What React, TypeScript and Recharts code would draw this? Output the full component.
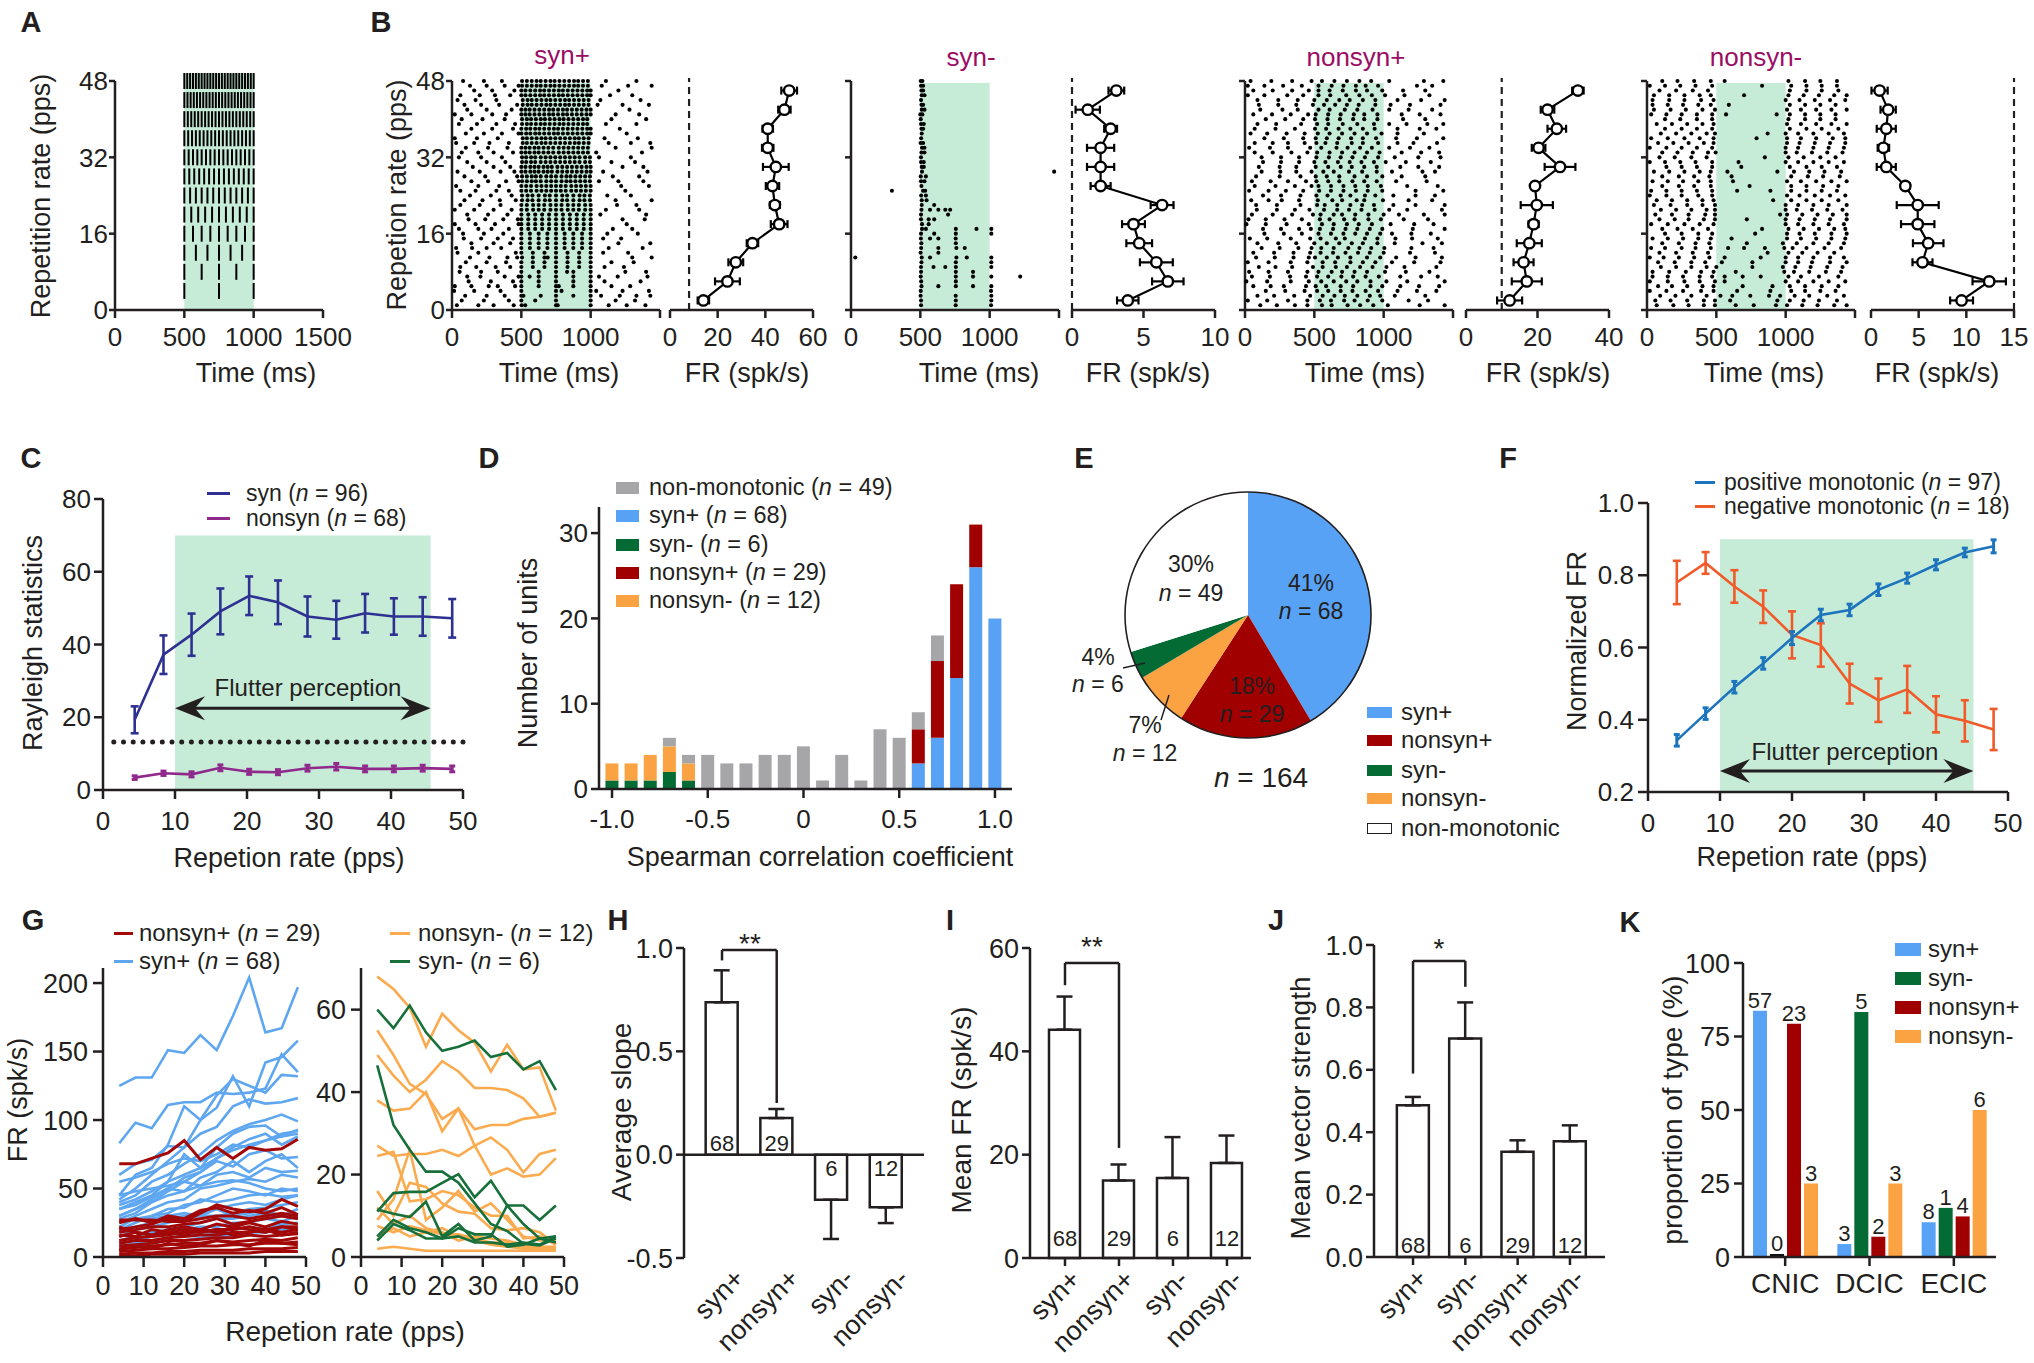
import React from 'react';
import {
  BarChart, Bar, ComposedChart, Line, LineChart, Scatter, ScatterChart, PieChart, Pie, Cell,
  XAxis, YAxis, ErrorBar, ReferenceArea, ReferenceLine, LabelList,
} from 'recharts';

const FONT = "'Liberation Sans', Arial, Helvetica, sans-serif";
const INK = '#231f20';
const FLUTTER = '#c6ebd7';
const MAGENTA = '#9b0d63';
const C_SYNP = '#58a2f6';
const C_SYNM = '#046b35';
const C_NSP = '#a10000';
const C_NSM = '#fba243';
const C_GRAY = '#a6a6a9';
const C_SYN = '#2e3192';
const C_NONSYN = '#8f2a8c';
const C_POS = '#1c75bc';
const C_NEG = '#f15a29';
const G_BLUE = '#5ea7f0';
const G_RED = '#a30808';
const G_ORANGE = '#fbab4f';
const G_GREEN = '#17703a';

// ---- A: click trains
const clickRates = [4, 8, 12, 16, 20, 24, 28, 32, 36, 40, 44, 48];
const STIM_ON = 500;
const STIM_OFF = 1000;

// ---- B: rasters (spike times per trial, and the trial row each one sits on)
const trialRowsOdd = [1, 3, 5, 7, 9, 11, 13, 15, 17, 19, 21, 23, 25, 27, 29, 31, 33, 35, 37, 39, 41, 43, 45, 47];
const trialRowsEven = [2, 4, 6, 8, 10, 12, 14, 16, 18, 20, 22, 24, 26, 28, 30, 32, 34, 36, 38, 40, 42, 44, 46, 48];
const nonsynPlusRowsOdd = [15, 39, 5, 29, 45, 11, 23, 1, 35, 19, 43, 7, 31, 25, 3, 41, 13, 37, 21, 47, 9, 27, 17, 33];
const nonsynPlusRowsEven = [28, 10, 42, 20, 4, 34, 14, 46, 24, 6, 38, 16, 48, 30, 2, 22, 40, 12, 32, 8, 44, 18, 26, 36];
const nonsynMinusRowsOdd = [7, 3, 13, 1, 11, 5, 15, 9, 25, 19, 29, 17, 31, 23, 27, 21, 41, 35, 45, 33, 47, 39, 43, 37];
const nonsynMinusRowsEven = [10, 4, 14, 2, 16, 8, 12, 6, 26, 20, 30, 18, 32, 24, 28, 22, 40, 36, 46, 34, 48, 42, 38, 44];

const synPlusRasterOdd = [
  [35, 190, 300, 445, 502, 528, 750, 762, 1000, 1130, 1260, 1395],
  [95, 250, 380, 500, 515, 640, 750, 875, 1000, 1075, 1210, 1330, 1430],
  [20, 140, 265, 330, 455, 500, 625, 750, 770, 875, 1000, 1150, 1285],
  [110, 205, 380, 480, 500, 560, 625, 750, 875, 1000, 1060, 1195, 1410],
  [60, 175, 315, 420, 500, 583, 667, 750, 833, 917, 1000, 1100, 1240],
  [130, 270, 400, 470, 505, 583, 667, 690, 750, 833, 917, 1000, 1300, 1440],
  [30, 145, 250, 355, 500, 562, 625, 688, 750, 812, 875, 938, 1000, 1130, 1375],
  [85, 210, 330, 440, 500, 562, 625, 688, 750, 812, 875, 938, 1000, 1090, 1220],
  [50, 190, 285, 410, 500, 550, 600, 650, 700, 750, 800, 850, 900, 950, 1000, 1160, 1300],
  [120, 240, 370, 475, 500, 550, 600, 650, 700, 750, 800, 850, 900, 950, 1000, 1230, 1390],
  [20, 160, 300, 430, 500, 540, 585, 625, 665, 710, 750, 790, 835, 875, 915, 960, 1000, 1110, 1350],
  [90, 220, 345, 460, 505, 545, 580, 625, 670, 705, 750, 795, 830, 875, 920, 955, 995, 1180, 1440],
  [60, 170, 320, 410, 500, 535, 570, 610, 645, 680, 715, 750, 785, 820, 860, 895, 930, 965, 1000, 1250],
  [140, 260, 390, 480, 505, 540, 575, 605, 640, 680, 715, 750, 790, 825, 855, 890, 925, 960, 995, 1060, 1200, 1380],
  [40, 200, 350, 450, 500, 530, 565, 595, 625, 660, 690, 720, 760, 795, 830, 865, 900, 935, 970, 1000, 1090, 1410],
  [110, 250, 385, 505, 535, 570, 600, 640, 675, 710, 745, 780, 815, 850, 885, 920, 960, 995, 1150, 1320],
  [70, 190, 300, 440, 500, 530, 560, 595, 625, 660, 695, 730, 770, 805, 840, 875, 910, 945, 980, 1040, 1370],
  [30, 160, 270, 410, 510, 540, 575, 610, 645, 675, 710, 745, 780, 815, 850, 885, 915, 950, 985, 1130, 1290, 1430],
  [100, 230, 360, 480, 500, 535, 565, 600, 630, 665, 700, 735, 765, 800, 835, 870, 905, 940, 975, 1000, 1260],
  [50, 180, 320, 455, 505, 540, 570, 605, 640, 670, 705, 740, 775, 805, 840, 875, 910, 945, 975, 1110, 1330],
  [20, 140, 290, 390, 500, 530, 560, 595, 630, 665, 700, 730, 765, 800, 830, 865, 900, 935, 970, 1000, 1180, 1350],
  [90, 210, 340, 470, 510, 545, 575, 610, 645, 680, 710, 745, 780, 815, 845, 880, 915, 950, 985, 1050, 1230, 1420],
  [60, 200, 310, 420, 500, 530, 565, 600, 635, 665, 700, 735, 770, 800, 835, 870, 905, 940, 975, 1000, 1140, 1300],
  [130, 250, 380, 480, 505, 540, 575, 610, 640, 675, 710, 740, 775, 810, 845, 880, 910, 945, 980, 1080, 1270, 1440],
];
const synPlusRasterEven = [
  [70, 230, 410, 500, 600, 750, 1000, 1180, 1320],
  [15, 160, 350, 500, 750, 790, 1000, 1040, 1230, 1420],
  [120, 280, 440, 500, 625, 750, 875, 1000, 1100, 1360],
  [55, 210, 330, 500, 625, 750, 830, 875, 1000, 1250, 1400],
  [100, 250, 390, 500, 583, 667, 750, 833, 917, 1000, 1150, 1310],
  [40, 190, 460, 500, 583, 667, 750, 833, 917, 1000, 1090, 1270],
  [140, 300, 420, 500, 562, 625, 688, 750, 812, 875, 938, 1000, 1200, 1430],
  [80, 230, 370, 500, 562, 625, 688, 750, 812, 875, 938, 1000, 1120, 1340],
  [20, 170, 310, 480, 500, 550, 600, 650, 700, 750, 800, 850, 900, 950, 1000, 1260],
  [110, 260, 400, 500, 550, 600, 650, 700, 750, 800, 850, 900, 950, 1000, 1070, 1400],
  [60, 200, 350, 500, 540, 585, 625, 665, 710, 750, 790, 835, 875, 915, 960, 1000, 1190, 1330],
  [130, 280, 430, 505, 545, 580, 625, 670, 705, 750, 795, 830, 875, 920, 955, 995, 1120, 1290],
  [30, 190, 340, 500, 535, 570, 610, 645, 680, 715, 750, 785, 820, 860, 895, 930, 965, 1000, 1220, 1420],
  [90, 240, 470, 505, 540, 575, 605, 640, 680, 715, 750, 790, 825, 855, 890, 925, 960, 995, 1160, 1350],
  [150, 300, 420, 500, 530, 565, 595, 625, 660, 690, 720, 760, 795, 830, 865, 900, 935, 970, 1000, 1230, 1380],
  [50, 210, 360, 505, 535, 570, 600, 640, 675, 710, 745, 780, 815, 850, 885, 920, 960, 995, 1060, 1290],
  [100, 260, 400, 500, 530, 560, 595, 625, 660, 695, 730, 770, 805, 840, 875, 910, 945, 980, 1180, 1440],
  [20, 180, 330, 510, 540, 575, 610, 645, 675, 710, 745, 780, 815, 850, 885, 915, 950, 985, 1100, 1340],
  [140, 290, 440, 500, 535, 565, 600, 630, 665, 700, 735, 765, 800, 835, 870, 905, 940, 975, 1000, 1210],
  [70, 220, 380, 505, 540, 570, 605, 640, 670, 705, 740, 775, 805, 840, 875, 910, 945, 975, 1150, 1400],
  [110, 250, 430, 500, 530, 560, 595, 630, 665, 700, 730, 765, 800, 830, 865, 900, 935, 970, 1000, 1280],
  [40, 170, 320, 510, 545, 575, 610, 645, 680, 710, 745, 780, 815, 845, 880, 915, 950, 985, 1070, 1360],
  [160, 290, 450, 500, 530, 565, 600, 635, 665, 700, 735, 770, 800, 835, 870, 905, 940, 975, 1000, 1200],
  [80, 230, 360, 505, 540, 575, 610, 640, 675, 710, 740, 775, 810, 845, 880, 910, 945, 980, 1110, 1330],
];

const synMinusRasterOdd = [
  [505, 755, 1010], [502, 755, 1012], [508, 630, 756, 880, 1012], [503, 756, 880, 1012, 1220],
  [505, 595, 680, 756, 1012], [31, 510, 570, 760, 835, 1012], [506, 630, 760, 820], [504, 570, 630, 755],
  [512, 540, 756, 905, 1012], [505, 560, 600], [508, 570, 630, 680, 715], [510, 545],
  [295, 520, 535], [505, 530], [512, 1465], [505, 525], [508, 530], [502, 520],
  [510], [505, 525], [500, 515], [508, 520], [510, 530], [505, 520],
];
const synMinusRasterEven = [
  [505, 756, 1012], [503, 1010], [506, 756], [505, 756, 880], [508, 756, 1012], [502, 630],
  [507, 756], [505, 600, 756, 1012], [512, 560], [505, 700], [510, 600], [506, 540],
  [508], [503, 540], [510, 525], [505], [512, 530], [506],
  [508, 520], [503], [510, 530], [505], [508, 520], [503, 515],
];

const nonsynPlusRasterOdd = [
  [35, 160, 330, 470, 545, 655, 720, 865, 955, 1085, 1205, 1390],
  [90, 225, 405, 520, 600, 705, 810, 930, 1040, 1165, 1315, 1430],
  [60, 185, 280, 440, 510, 585, 690, 780, 905, 990, 1120, 1255, 1400],
  [120, 255, 370, 480, 565, 640, 750, 845, 950, 1060, 1280, 1370],
  [20, 140, 305, 420, 530, 615, 730, 825, 915, 1010, 1150, 1330],
  [80, 215, 350, 460, 505, 590, 670, 760, 880, 975, 1090, 1230, 1420],
  [45, 170, 265, 390, 525, 630, 700, 805, 860, 995, 1180, 1350],
  [110, 230, 360, 450, 555, 625, 740, 830, 925, 1030, 1260, 1440],
  [70, 200, 310, 430, 515, 580, 665, 770, 850, 960, 1100, 1215, 1385],
  [25, 150, 285, 410, 540, 610, 715, 790, 890, 980, 1145, 1320],
  [100, 240, 370, 490, 570, 650, 735, 820, 940, 1050, 1190, 1410],
  [50, 180, 325, 440, 520, 600, 695, 780, 870, 965, 1120, 1270, 1390],
  [130, 260, 390, 500, 580, 670, 755, 840, 930, 1015, 1160, 1340],
  [30, 170, 295, 420, 535, 620, 710, 800, 885, 990, 1230, 1430],
  [90, 210, 355, 470, 560, 645, 720, 810, 900, 975, 1080, 1300],
  [60, 195, 330, 455, 510, 600, 690, 785, 860, 955, 1130, 1260, 1410],
  [120, 250, 385, 480, 550, 640, 745, 825, 910, 1005, 1200, 1360],
  [40, 160, 300, 430, 525, 610, 700, 790, 880, 985, 1100, 1290],
  [85, 230, 360, 465, 570, 665, 750, 840, 935, 1040, 1170, 1420],
  [20, 140, 275, 410, 530, 625, 710, 800, 870, 960, 1240, 1350],
  [100, 220, 340, 490, 560, 655, 735, 830, 920, 1020, 1150, 1380],
  [50, 185, 310, 440, 515, 600, 680, 775, 860, 950, 1090, 1310],
  [130, 260, 390, 475, 540, 635, 725, 810, 900, 990, 1210, 1440],
  [70, 200, 335, 450, 520, 610, 700, 790, 880, 970, 1130, 1270, 1400],
];
const nonsynPlusRasterEven = [
  [80, 250, 400, 510, 590, 680, 790, 880, 990, 1130, 1300],
  [20, 170, 330, 450, 560, 650, 760, 850, 940, 1060, 1220, 1410],
  [110, 270, 380, 530, 610, 720, 810, 920, 1040, 1180, 1350],
  [50, 200, 340, 490, 545, 640, 700, 795, 890, 1000, 1110, 1290, 1440],
  [150, 290, 430, 520, 600, 690, 775, 870, 960, 1100, 1240, 1380],
  [30, 180, 310, 470, 550, 660, 740, 830, 915, 1040, 1190, 1330],
  [90, 240, 370, 500, 590, 680, 770, 850, 955, 1080, 1280, 1420],
  [60, 200, 340, 460, 530, 610, 705, 800, 880, 990, 1140, 1300],
  [130, 260, 400, 515, 595, 690, 760, 865, 940, 1070, 1230, 1370],
  [10, 160, 330, 460, 550, 640, 730, 810, 905, 1020, 1170, 1440],
  [70, 220, 360, 505, 585, 675, 760, 850, 935, 1100, 1260, 1380],
  [140, 280, 410, 530, 620, 710, 795, 880, 975, 1060, 1200, 1340],
  [40, 190, 340, 480, 555, 645, 735, 825, 910, 1040, 1290, 1430],
  [100, 250, 370, 510, 600, 690, 770, 860, 950, 1120, 1250, 1400],
  [20, 160, 310, 450, 540, 620, 715, 790, 885, 990, 1180, 1320],
  [80, 230, 400, 520, 575, 665, 760, 845, 930, 1070, 1230, 1440],
  [150, 290, 420, 505, 595, 685, 780, 860, 955, 1140, 1300],
  [60, 210, 350, 470, 545, 635, 725, 815, 900, 1000, 1190, 1370],
  [120, 260, 390, 515, 605, 690, 775, 865, 960, 1080, 1250, 1410],
  [30, 170, 310, 450, 530, 625, 700, 790, 880, 1010, 1160, 1330],
  [90, 240, 380, 500, 590, 680, 755, 850, 940, 1100, 1270, 1440],
  [10, 150, 300, 460, 555, 640, 735, 820, 915, 1050, 1220, 1360],
  [70, 220, 360, 480, 530, 620, 710, 795, 885, 980, 1170, 1390],
  [140, 280, 420, 510, 590, 675, 765, 850, 945, 1090, 1240, 1430],
];

const nonsynMinusRasterOdd = [
  [40, 150, 260, 380, 470, 560, 690, 820, 1020, 1110, 1240, 1380],
  [95, 205, 320, 430, 530, 615, 745, 880, 960, 1065, 1170, 1300, 1420],
  [30, 130, 250, 350, 460, 585, 700, 850, 990, 1050, 1150, 1280, 1400],
  [70, 190, 300, 410, 490, 640, 770, 930, 1010, 1120, 1230, 1350, 1440],
  [20, 120, 230, 340, 450, 560, 820, 1000, 1090, 1200, 1320, 1420],
  [80, 180, 290, 400, 480, 690, 905, 1030, 1140, 1260, 1380],
  [40, 150, 260, 370, 460, 610, 1010, 1110, 1220, 1330, 1430],
  [100, 210, 320, 430, 500, 760, 980, 1070, 1180, 1300, 1410],
  [30, 140, 250, 360, 470, 650, 890, 1040, 1150, 1260, 1370],
  [90, 200, 300, 410, 490, 720, 1000, 1100, 1210, 1320, 1440],
  [50, 160, 270, 380, 460, 580, 940, 1060, 1170, 1280, 1400],
  [110, 220, 330, 440, 830, 1020, 1130, 1240, 1350, 1430],
  [20, 130, 240, 350, 470, 660, 1000, 1090, 1200, 1310, 1420],
  [70, 180, 290, 400, 480, 910, 1040, 1150, 1260, 1380],
  [40, 150, 260, 370, 460, 620, 1010, 1110, 1220, 1330, 1440],
  [100, 210, 320, 430, 490, 1000, 1080, 1190, 1300, 1410],
  [30, 140, 250, 360, 470, 570, 935, 1030, 1140, 1250, 1360],
  [80, 190, 300, 410, 480, 1010, 1100, 1210, 1320, 1430],
  [50, 160, 270, 380, 460, 700, 1020, 1130, 1240, 1350, 1440],
  [110, 220, 330, 440, 495, 1000, 1080, 1190, 1300, 1410],
  [20, 130, 240, 350, 470, 830, 1040, 1150, 1260, 1370],
  [70, 180, 290, 400, 480, 1010, 1110, 1220, 1330, 1440],
  [40, 150, 260, 370, 460, 590, 1030, 1140, 1250, 1360],
  [100, 210, 320, 430, 490, 870, 1000, 1090, 1200, 1310, 1420],
];
const nonsynMinusRasterEven = [
  [80, 200, 320, 420, 540, 760, 1000, 1090, 1190, 1320, 1440],
  [20, 140, 260, 390, 480, 650, 890, 1040, 1140, 1250, 1360],
  [110, 230, 350, 450, 720, 980, 1080, 1200, 1310, 1420],
  [60, 170, 290, 410, 490, 600, 940, 1030, 1130, 1240, 1370],
  [130, 250, 370, 470, 780, 1010, 1100, 1210, 1330, 1440],
  [40, 160, 280, 390, 480, 640, 990, 1060, 1170, 1290, 1400],
  [90, 210, 330, 440, 870, 1020, 1120, 1230, 1350],
  [20, 150, 270, 380, 490, 560, 1000, 1090, 1200, 1310, 1430],
  [110, 230, 340, 460, 740, 1040, 1150, 1270, 1380],
  [60, 180, 300, 420, 490, 960, 1010, 1120, 1230, 1340, 1440],
  [140, 250, 360, 470, 680, 1030, 1150, 1260, 1370],
  [30, 150, 270, 380, 480, 1000, 1090, 1200, 1310, 1420],
  [90, 200, 320, 430, 850, 1020, 1130, 1250, 1360],
  [20, 140, 250, 370, 470, 1010, 1100, 1210, 1320, 1430],
  [110, 230, 340, 450, 610, 1040, 1160, 1270, 1390],
  [50, 170, 290, 400, 490, 1000, 1090, 1200, 1310, 1440],
  [130, 240, 360, 470, 1020, 1140, 1250, 1360],
  [30, 150, 270, 380, 480, 790, 1010, 1110, 1220, 1340, 1430],
  [90, 210, 330, 440, 1030, 1150, 1260, 1380],
  [20, 140, 250, 360, 470, 1000, 1090, 1200, 1310, 1420],
  [110, 220, 340, 460, 560, 1020, 1140, 1250, 1370],
  [50, 170, 280, 400, 490, 1010, 1110, 1220, 1330, 1440],
  [130, 250, 360, 470, 1030, 1150, 1260, 1380],
  [40, 160, 270, 390, 480, 1000, 1100, 1210, 1320, 1430],
];

const tuningRates = [2, 6, 10, 14, 18, 22, 26, 30, 34, 38, 42, 46];
const synPlusFR = [14, 24.1, 27.6, 34.6, 45.8, 44, 43, 44.4, 41, 41, 48, 50];
const synPlusSem = [2.4, 5.2, 3.1, 2.4, 3.5, 2.1, 2.8, 5.4, 2.4, 2.2, 2.6, 3.3];
const synMinusFR = [3.9, 6.7, 5.9, 4.7, 4.3, 6.3, 2.0, 2.0, 2.0, 2.7, 1.1, 3.1];
const synMinusSem = [0.75, 1.1, 1.15, 0.9, 0.8, 0.8, 0.7, 0.95, 0.95, 0.45, 0.85, 0.55];
const nonsynPlusFR = [12.2, 17, 16.1, 17.7, 18.9, 19.8, 19.3, 26.3, 20.3, 25.4, 22.8, 31.3];
const nonsynPlusSem = [3.5, 4.2, 2.8, 3.5, 1.4, 4.5, 1, 4.3, 1.9, 2.6, 1.9, 1.6];
const nonsynMinusFR = [9.5, 12.4, 5.4, 6.0, 4.9, 4.9, 3.6, 1.6, 1.3, 1.6, 1.8, 0.9];
const nonsynMinusSem = [1.2, 1.75, 1.05, 1.6, 1.75, 2.2, 0.45, 1.0, 0.6, 1.0, 0.8, 0.85];

// ---- C: Rayleigh statistics
const cRates = [4.4, 8.4, 12.3, 16.3, 20.3, 24.3, 28.4, 32.4, 36.4, 40.4, 44.4, 48.5];
const synRayleigh = [19.3, 37.2, 42.7, 49.1, 53.4, 51.6, 47.7, 46.8, 48.6, 47.7, 47.7, 47.2];
const synRayleighErr = [3.7, 5.3, 5.8, 6.3, 5.3, 6.0, 5.5, 5.2, 5.3, 5.0, 5.3, 5.3];
const nonsynRayleigh = [3.4, 4.6, 4.3, 6.1, 5.0, 4.9, 6.0, 6.4, 5.8, 5.8, 6.0, 5.8];
const nonsynRayleighErr = [0.5, 0.6, 0.7, 0.8, 0.7, 0.7, 0.8, 0.9, 0.8, 0.8, 0.8, 0.8];
const RAYLEIGH_CRIT = 13.2;
const flutterRange = [10, 45.5];

// ---- D: Spearman histogram
const corrBins = [-1.0, -0.9, -0.8, -0.7, -0.6, -0.5, -0.4, -0.3, -0.2, -0.1, 0, 0.1, 0.2, 0.3, 0.4, 0.5, 0.6, 0.7, 0.8, 0.9, 1.0];
const dSynMinus = [1, 1, 1, 2, 1, 0, 0, 0, 0, 0, 0, 0, 0, 0, 0, 0, 0, 0, 0, 0, 0];
const dNonsynMinus = [2, 2, 3, 3, 2, 0, 0, 0, 0, 0, 0, 0, 0, 0, 0, 0, 0, 0, 0, 0, 0];
const dSynPlus = [0, 0, 0, 0, 0, 0, 0, 0, 0, 0, 0, 0, 0, 0, 0, 0, 3, 6, 13, 26, 20];
const dNonsynPlus = [0, 0, 0, 0, 0, 0, 0, 0, 0, 0, 0, 0, 0, 0, 0, 0, 4, 9, 11, 5, 0];
const dNonMono = [0, 0, 0, 1, 1, 4, 3, 3, 4, 4, 5, 1, 4, 1, 7, 6, 2, 3, 0, 0, 0];

// ---- E: pie
const pieTypes = ['syn+', 'nonsyn+', 'nonsyn-', 'syn-', 'non-monotonic'];
const pieCounts = [68, 29, 12, 6, 49];
const pieColors = [C_SYNP, C_NSP, C_NSM, C_SYNM, '#ffffff'];

// ---- F: normalized FR
const fRates = [4, 8, 12, 16, 20, 24, 28, 32, 36, 40, 44, 48];
const posNorm = [0.343, 0.417, 0.49, 0.556, 0.626, 0.69, 0.704, 0.76, 0.792, 0.829, 0.863, 0.88];
const posErr = [0.016, 0.016, 0.016, 0.016, 0.018, 0.016, 0.016, 0.016, 0.014, 0.014, 0.012, 0.018];
const negNorm = [0.78, 0.834, 0.769, 0.713, 0.635, 0.607, 0.5, 0.454, 0.484, 0.415, 0.397, 0.373];
const negErr = [0.06, 0.03, 0.045, 0.045, 0.065, 0.06, 0.055, 0.06, 0.065, 0.05, 0.057, 0.057];

// ---- G: single units
const gRates = [4, 8, 12, 16, 20, 24, 28, 32, 36, 40, 44, 48];
const synPlusUnits = [
  [125, 131, 131, 151, 149, 162, 151, 176, 204, 164, 167, 197],
  [83, 98, 94, 111, 113, 113, 120, 119, 120, 123, 148, 135],
  [60, 68, 71, 81, 80, 100, 109, 132, 110, 142, 146, 158],
  [45, 60, 65, 82, 110, 100, 118, 130, 125, 120, 133, 132],
  [42, 50, 60, 70, 80, 90, 95, 110, 115, 112, 113, 116],
  [40, 45, 55, 60, 68, 75, 85, 92, 97, 100, 104, 99],
  [38, 42, 48, 55, 75, 65, 80, 90, 95, 96, 88, 93],
  [35, 40, 45, 55, 60, 65, 72, 80, 86, 90, 82, 88],
  [30, 35, 40, 48, 55, 62, 70, 66, 75, 78, 72, 73],
  [28, 32, 40, 45, 48, 52, 60, 62, 58, 65, 62, 63],
  [25, 30, 35, 40, 42, 50, 52, 55, 57, 55, 60, 58],
  [45, 48, 50, 52, 55, 52, 55, 56, 54, 50, 48, 50],
  [20, 25, 30, 32, 38, 40, 45, 50, 48, 45, 50, 48],
  [22, 28, 30, 35, 36, 42, 40, 42, 45, 46, 44, 45],
  [18, 22, 25, 28, 30, 32, 35, 38, 40, 38, 42, 45],
  [15, 20, 22, 25, 28, 30, 30, 32, 35, 36, 38, 40],
  [12, 15, 18, 20, 22, 25, 28, 28, 30, 32, 30, 35],
  [26, 28, 28, 30, 32, 30, 35, 30, 32, 34, 30, 28],
  [10, 12, 15, 18, 20, 22, 22, 25, 25, 28, 26, 30],
  [8, 10, 12, 14, 16, 18, 18, 20, 22, 20, 24, 25],
  [5, 8, 10, 12, 12, 14, 15, 16, 18, 18, 20, 20],
  [30, 35, 42, 50, 48, 58, 62, 70, 62, 70, 75, 65],
  [35, 38, 44, 50, 58, 62, 72, 78, 82, 85, 88, 90],
  [55, 58, 62, 68, 72, 70, 75, 82, 80, 85, 90, 92],
];
const nonsynPlusUnits = [
  [68, 68, 72, 76, 85, 71, 80, 72, 80, 78, 79, 86],
  [27, 27, 27, 26, 26, 32, 38, 35, 33, 35, 42, 37],
  [25, 28, 25, 30, 28, 34, 36, 32, 34, 32, 36, 31],
  [20, 22, 24, 28, 26, 28, 30, 30, 28, 30, 32, 30],
  [18, 20, 22, 22, 24, 25, 28, 24, 26, 28, 30, 28],
  [15, 18, 16, 20, 22, 20, 24, 22, 25, 22, 26, 24],
  [12, 14, 15, 16, 18, 18, 20, 20, 22, 20, 22, 22],
  [10, 12, 12, 14, 15, 16, 16, 18, 18, 20, 18, 20],
  [8, 9, 10, 12, 12, 13, 14, 14, 16, 15, 16, 17],
  [6, 7, 8, 9, 10, 10, 12, 11, 12, 13, 12, 14],
  [4, 5, 6, 6, 7, 8, 8, 9, 9, 10, 10, 11],
  [2, 3, 3, 4, 4, 5, 5, 5, 6, 6, 6, 7],
  [1, 1, 2, 2, 2, 3, 3, 3, 3, 4, 4, 4],
  [16, 15, 20, 18, 16, 20, 18, 22, 20, 18, 22, 20],
  [22, 18, 16, 18, 20, 18, 20, 16, 18, 20, 16, 18],
  [5, 8, 6, 10, 8, 9, 12, 10, 8, 12, 10, 9],
];
const nonsynMinusUnits = [
  [68, 65, 60.5, 51, 59, 55, 52, 45, 51.5, 45.5, 46, 35.5],
  [55, 49, 42, 39.5, 33.5, 36, 31, 32, 32, 33.5, 34, 35],
  [49, 44, 40, 43, 47.5, 45, 41, 41, 40.5, 38.5, 34, 35],
  [38, 35.5, 36, 40, 30.5, 36, 27, 29, 26, 20.5, 25, 26],
  [27, 24.5, 25, 25, 26, 24.5, 27, 20, 21.5, 19.5, 20, 24],
  [24.5, 25.5, 13.5, 14, 16, 15, 12, 10, 10, 4.5, 5, 3],
  [16, 10, 18, 17, 13, 11, 10.5, 7, 6.5, 7, 6, 3],
  [12, 8, 10, 7, 6, 4, 5, 4.5, 4, 3, 2.5, 2.5],
  [9, 14, 26, 9, 12, 16, 11, 13, 9, 5, 4, 4],
  [7.5, 6, 7.5, 6.5, 5.5, 5.5, 4.5, 3.5, 3.5, 2.5, 2, 2],
  [2, 2.5, 2, 1.5, 1.5, 1.5, 1.5, 1.5, 1.5, 1.5, 1.5, 1.5],
  [5, 7, 5, 6, 7, 5, 4, 3, 2.5, 2, 2, 2],
];
const synMinusUnits = [
  [60, 55.5, 61, 54.5, 50, 51, 52.5, 48.5, 49.5, 45.5, 47.5, 40.5],
  [46.5, 32, 26, 20.7, 20.7, 18, 13, 8, 6.3, 3.2, 2.8, 4.5],
  [11, 15.5, 15.8, 15.8, 18, 20.1, 14.5, 18.5, 12.5, 12.5, 9, 12.5],
  [11.5, 10.5, 9.7, 13.4, 5, 8, 4, 5, 12.5, 8, 4.5, 5],
  [5, 9, 7, 6, 4.5, 7, 5.5, 5.5, 2.5, 3, 4.5, 3.5],
  [4, 8, 6.5, 4.5, 4.5, 5, 3.5, 3.5, 3, 3.5, 3, 5],
];

// ---- H, I, J: group means
const hCats = ['syn+', 'nonsyn+', 'syn-', 'nonsyn-'];
const hSlope = [0.737, 0.177, -0.218, -0.255];
const hErr = [0.155, 0.044, 0.19, 0.076];
const hN = [68, 29, 6, 12];
const hSig = [[1, 0.94, 1, 0.99], [1, 0.99, 2, 0.99], [2, 0.99, 2, 0.25]];

const iCats = ['syn+', 'nonsyn+', 'syn-', 'nonsyn-'];
const iFR = [44.2, 15.0, 15.5, 18.4];
const iErr = [6.4, 3.1, 7.9, 5.3];
const iN = [68, 29, 6, 12];
const iSig = [[1, 52.8, 1, 57.1], [1, 57.1, 2, 57.1], [2, 57.1, 2, 21.3]];

const jCats = ['syn+', 'syn-', 'nonsyn+', 'nonsyn-'];
const jVS = [0.486, 0.7, 0.337, 0.371];
const jErr = [0.027, 0.116, 0.037, 0.051];
const jN = [68, 6, 29, 12];
const jSig = [[1, 0.588, 1, 0.949], [1, 0.949, 2, 0.949], [2, 0.949, 2, 0.866]];

// ---- K: proportions per subdivision
const regions = ['CNIC', 'DCIC', 'ECIC'];
const kSynPlus = [83.8, 4.4, 11.8];
const kSynPlusN = [57, 3, 8];
const kSynMinus = [0, 83.3, 16.7];
const kSynMinusN = [0, 5, 1];
const kNonsynPlus = [79.3, 6.9, 13.8];
const kNonsynPlusN = [23, 2, 4];
const kNonsynMinus = [25, 25, 50];
const kNonsynMinusN = [3, 3, 6];

// ---------- helpers
type Box = { x0: number; y0: number; x1: number; y1: number; l: number; t: number; r: number; b: number };
const place = (bx: Box) => ({
  style: { position: 'absolute' as const, left: bx.x0 - bx.l, top: bx.y0 - bx.t },
  width: bx.x1 - bx.x0 + bx.l + bx.r,
  height: bx.y1 - bx.y0 + bx.t + bx.b,
  margin: { top: bx.t, right: bx.r, bottom: 0, left: 0 },
});

const LINE = { stroke: INK, strokeWidth: 2.5 };
const axStyle = (fs: number, size: number, gap: number) => ({
  axisLine: LINE,
  tickLine: LINE,
  tickSize: size,
  tickMargin: gap,
  tick: { fill: INK, fontSize: fs },
});

const spikeDot = (p: any) => <circle cx={p.cx} cy={p.cy} r={2.05} fill="#000" />;
const clickMark = (p: any) => <line x1={p.cx} x2={p.cx} y1={p.cy - 8} y2={p.cy + 8} stroke="#000" strokeWidth={2} />;
const openCircle = (p: any) => <circle cx={p.cx} cy={p.cy} r={5.2} fill="#fff" stroke="#000" strokeWidth={2.4} />;
const arrowHead = (p: any) => {
  const d = p.payload.d;
  const { cx, cy } = p;
  return <polygon points={`${cx},${cy} ${cx - d * 30},${cy - 12} ${cx - d * 20},${cy} ${cx - d * 30},${cy + 12}`} fill={INK} />;
};
const countText = (dyPos: number) => (p: any) => (
  <text x={p.cx} y={p.payload.neg ? p.cy + 21 : p.cy - dyPos} textAnchor="middle" fontSize={22} fill={INK}>
    {p.payload.t}
  </text>
);
const slantTick = (names: string[], dx: number, dy: number) => (p: any) => {
  const i = Math.round(p.payload.value) - 1;
  const ax = p.x + dx;
  const ay = p.y + dy;
  return (
    <text x={ax} y={ay} textAnchor="end" fontSize={27} fill={INK} transform={`rotate(-45 ${ax} ${ay})`}>
      {names[i]}
    </text>
  );
};

function Txt({ x, y, size = 26, rot = 0, anchor = 'middle', color = INK, bold = false, children }: any) {
  const tx = anchor === 'middle' ? '-50%' : anchor === 'end' ? '-100%' : '0';
  return (
    <div style={{
      position: 'absolute', left: x, top: y, transform: `translate(${tx}, -50%) rotate(${rot}deg)`,
      fontSize: size, lineHeight: 1, whiteSpace: 'nowrap', color, fontWeight: bold ? 700 : 400,
    }}>
      {children}
    </div>
  );
}
const Letter = ({ x, y, c }: any) => <Txt x={x} y={y} size={29} bold>{c}</Txt>;
const Swatch = ({ x, y, w, h, color, border }: any) => (
  <div style={{ position: 'absolute', left: x, top: y - h / 2, width: w, height: h, background: color, boxSizing: 'border-box', border: border ? `1.5px solid ${INK}` : 'none' }} />
);
const N = () => <i>n</i>;

// ---------- panels
function PanelA() {
  const p = place({ x0: 115, y0: 81, x1: 323, y1: 310, l: 60, t: 14, r: 30, b: 48 });
  const clicks = clickRates.flatMap((r) => {
    const out: { x: number; y: number }[] = [];
    for (let t = STIM_ON; t <= STIM_OFF + 0.01; t += 1000 / r) out.push({ x: t, y: r });
    return out;
  });
  return (
    <div style={p.style}>
      <ScatterChart width={p.width} height={p.height} margin={p.margin}>
        <ReferenceArea x1={STIM_ON} x2={STIM_OFF} y1={0} y2={49.7} fill={FLUTTER} fillOpacity={1} stroke="none" ifOverflow="visible" />
        <XAxis type="number" dataKey="x" domain={[0, 1500]} ticks={[0, 500, 1000, 1500]} interval={0} height={48} {...axStyle(26, 8, 10)} />
        <YAxis type="number" dataKey="y" domain={[0, 48]} ticks={[0, 16, 32, 48]} interval={0} width={60} {...axStyle(26, 6, 1)} />
        <Scatter data={clicks} shape={clickMark} isAnimationActive={false} />
      </ScatterChart>
    </div>
  );
}

function Raster({ x0, odd, even, oddY, evenY, labels }: any) {
  const p = place({ x0, y0: 81, x1: x0 + 208, y1: 310, l: 60, t: 14, r: 12, b: 48 });
  const pts = [
    ...odd.flatMap((times: number[], i: number) => times.map((t) => ({ x: t, y: oddY[i] }))),
    ...even.flatMap((times: number[], i: number) => times.map((t) => ({ x: t, y: evenY[i] }))),
  ];
  return (
    <div style={p.style}>
      <ScatterChart width={p.width} height={p.height} margin={p.margin}>
        <ReferenceArea x1={STIM_ON} x2={STIM_OFF} y1={0} y2={47.6} fill={FLUTTER} fillOpacity={1} stroke="none" />
        <XAxis type="number" dataKey="x" domain={[0, 1500]} ticks={[0, 500, 1000, 1500]} interval={0} height={48}
          tickFormatter={(v: number) => (v === 1500 ? '' : String(v))} {...axStyle(26, 8, 10)} />
        <YAxis type="number" dataKey="y" domain={[0, 48]} ticks={[0, 16, 32, 48]} interval={0} width={60}
          tickFormatter={(v: number) => (labels ? String(v) : '')} {...axStyle(26, 6, 1)} />
        <Scatter data={pts} shape={spikeDot} isAnimationActive={false} />
      </ScatterChart>
    </div>
  );
}

function Tuning({ x0, max, ticks, fr, sem, spont }: any) {
  const p = place({ x0, y0: 78, x1: x0 + 143, y1: 310, l: 6, t: 8, r: 24, b: 48 });
  const pts = tuningRates.map((y, i) => ({ x: fr[i], y, e: sem[i] }));
  return (
    <div style={p.style}>
      <ScatterChart width={p.width} height={p.height} margin={p.margin}>
        <XAxis type="number" dataKey="x" domain={[0, max]} ticks={ticks} interval={0} height={48} {...axStyle(26, 8, 10)} />
        <YAxis type="number" dataKey="y" domain={[0, 48.64]} width={6} axisLine={false} tickLine={false} tick={false} />
        <ReferenceLine x={spont} stroke={INK} strokeWidth={2.2} strokeDasharray="7 5" />
        <Scatter data={pts} shape={openCircle} line={{ stroke: '#000', strokeWidth: 2.2 }} isAnimationActive={false}>
          <ErrorBar dataKey="e" direction="x" width={4} strokeWidth={2.2} stroke="#000" />
        </Scatter>
      </ScatterChart>
    </div>
  );
}

function PanelC() {
  const p = place({ x0: 103, y0: 499, x1: 463, y1: 790, l: 60, t: 10, r: 24, b: 50 });
  const data = cRates.map((x, i) => ({ x, syn: synRayleigh[i], synE: synRayleighErr[i], non: nonsynRayleigh[i], nonE: nonsynRayleighErr[i] }));
  const heads = [{ x: flutterRange[0], y: 22.5, d: -1 }, { x: flutterRange[1], y: 22.5, d: 1 }];
  return (
    <div style={p.style}>
      <ComposedChart width={p.width} height={p.height} margin={p.margin} data={data}>
        <ReferenceArea x1={flutterRange[0]} x2={flutterRange[1]} y1={0} y2={70} fill={FLUTTER} fillOpacity={1} stroke="none" />
        <XAxis type="number" dataKey="x" domain={[0, 50]} ticks={[0, 10, 20, 30, 40, 50]} interval={0} height={50} {...axStyle(26, 9, 13)} />
        <YAxis type="number" domain={[0, 80]} ticks={[0, 20, 40, 60, 80]} interval={0} width={60} {...axStyle(26, 9, 3)} />
        <ReferenceLine segment={[{ x: 1.5, y: RAYLEIGH_CRIT }, { x: 50, y: RAYLEIGH_CRIT }]} stroke={INK} strokeWidth={5} strokeDasharray="0 9.7" strokeLinecap="round" />
        <ReferenceLine segment={[{ x: 11, y: 22.5 }, { x: 44.5, y: 22.5 }]} stroke={INK} strokeWidth={3} />
        <Scatter data={heads} dataKey="y" shape={arrowHead} isAnimationActive={false} />
        <Line dataKey="syn" stroke={C_SYN} strokeWidth={2.6} dot={false} isAnimationActive={false}>
          <ErrorBar dataKey="synE" width={4} strokeWidth={2.6} stroke={C_SYN} direction="y" />
        </Line>
        <Line dataKey="non" stroke={C_NONSYN} strokeWidth={2.6} dot={false} isAnimationActive={false}>
          <ErrorBar dataKey="nonE" width={3} strokeWidth={3} stroke={C_NONSYN} direction="y" />
        </Line>
      </ComposedChart>
    </div>
  );
}

function PanelD() {
  const p = place({ x0: 599, y0: 507, x1: 1012, y1: 789, l: 50, t: 10, r: 24, b: 50 });
  const data = corrBins.map((x, i) => ({ x, sm: dSynMinus[i], nm: dNonsynMinus[i], sp: dSynPlus[i], np: dNonsynPlus[i], nn: dNonMono[i] }));
  return (
    <div style={p.style}>
      <BarChart width={p.width} height={p.height} margin={p.margin} data={data} barSize={13}>
        <XAxis type="number" dataKey="x" domain={[-1.068, 1.089]} ticks={[-1, -0.5, 0, 0.5, 1]} interval={0} height={50}
          tickFormatter={(v: number) => (v === 0 ? '0' : v.toFixed(1))} {...axStyle(26, 9, 12)} />
        <YAxis type="number" domain={[0, 33.06]} ticks={[0, 10, 20, 30]} interval={0} width={50} {...axStyle(26, 8, 3)} />
        <Bar dataKey="sm" stackId="d" fill={C_SYNM} isAnimationActive={false} />
        <Bar dataKey="nm" stackId="d" fill={C_NSM} isAnimationActive={false} />
        <Bar dataKey="sp" stackId="d" fill={C_SYNP} isAnimationActive={false} />
        <Bar dataKey="np" stackId="d" fill={C_NSP} isAnimationActive={false} />
        <Bar dataKey="nn" stackId="d" fill={C_GRAY} isAnimationActive={false} />
      </BarChart>
    </div>
  );
}

const PIE_CX = 1248;
const PIE_CY = 615;
const PIE_R = 123;
function PanelE() {
  const size = 300;
  const data = pieTypes.map((name, i) => ({ name, value: pieCounts[i] }));
  return (
    <div style={{ position: 'absolute', left: PIE_CX - size / 2, top: PIE_CY - size / 2 }}>
      <PieChart width={size} height={size} margin={{ top: 0, right: 0, bottom: 0, left: 0 }}>
        <Pie data={data} dataKey="value" cx={size / 2} cy={size / 2} outerRadius={PIE_R} startAngle={90} endAngle={-270} stroke="none" isAnimationActive={false}>
          {data.map((d, i) => <Cell key={d.name} fill={pieColors[i]} />)}
        </Pie>
        <Pie data={[{ name: 'rim', value: 1 }]} dataKey="value" cx={size / 2} cy={size / 2} innerRadius={PIE_R - 0.8} outerRadius={PIE_R + 0.8} fill={INK} stroke="none" isAnimationActive={false} />
      </PieChart>
    </div>
  );
}

function PanelF() {
  const p = place({ x0: 1648, y0: 503, x1: 2008, y1: 792, l: 70, t: 10, r: 24, b: 50 });
  const data = fRates.map((x, i) => ({ x, pos: posNorm[i], posE: posErr[i], neg: negNorm[i], negE: negErr[i] }));
  const heads = [{ x: 10, y: 0.258, d: -1 }, { x: 45.2, y: 0.258, d: 1 }];
  return (
    <div style={p.style}>
      <ComposedChart width={p.width} height={p.height} margin={p.margin} data={data}>
        <ReferenceArea x1={10} x2={45.2} y1={0.2} y2={0.9} fill={FLUTTER} fillOpacity={1} stroke="none" />
        <XAxis type="number" dataKey="x" domain={[0, 50]} ticks={[0, 10, 20, 30, 40, 50]} interval={0} height={50} {...axStyle(26, 9, 13)} />
        <YAxis type="number" domain={[0.2, 1]} ticks={[0.2, 0.4, 0.6, 0.8, 1.0]} tickFormatter={(v: number) => v.toFixed(1)} interval={0} width={70} {...axStyle(26, 10, 4)} />
        <ReferenceLine segment={[{ x: 11, y: 0.258 }, { x: 44.2, y: 0.258 }]} stroke={INK} strokeWidth={3} />
        <Scatter data={heads} dataKey="y" shape={arrowHead} isAnimationActive={false} />
        <Line dataKey="neg" stroke={C_NEG} strokeWidth={2.6} dot={false} isAnimationActive={false}>
          <ErrorBar dataKey="negE" width={4} strokeWidth={2.6} stroke={C_NEG} direction="y" />
        </Line>
        <Line dataKey="pos" stroke={C_POS} strokeWidth={2.6} dot={false} isAnimationActive={false}>
          <ErrorBar dataKey="posE" width={3} strokeWidth={3} stroke={C_POS} direction="y" />
        </Line>
      </ComposedChart>
    </div>
  );
}

function PanelG() {
  const left = place({ x0: 103, y0: 968, x1: 306, y1: 1257, l: 75, t: 8, r: 22, b: 50 });
  const right = place({ x0: 361, y0: 968, x1: 564, y1: 1257, l: 55, t: 8, r: 22, b: 50 });
  const leftData = gRates.map((x, i) => {
    const row: Record<string, number> = { x };
    synPlusUnits.forEach((u, k) => { row[`sp${k}`] = u[i]; });
    nonsynPlusUnits.forEach((u, k) => { row[`np${k}`] = u[i]; });
    return row;
  });
  const rightData = gRates.map((x, i) => {
    const row: Record<string, number> = { x };
    nonsynMinusUnits.forEach((u, k) => { row[`nm${k}`] = u[i]; });
    synMinusUnits.forEach((u, k) => { row[`sm${k}`] = u[i]; });
    return row;
  });
  return (
    <>
      <div style={left.style}>
        <LineChart width={left.width} height={left.height} margin={left.margin} data={leftData}>
          <XAxis type="number" dataKey="x" domain={[0, 50]} ticks={[0, 10, 20, 30, 40, 50]} interval={0} height={50} {...axStyle(27, 10, 9)} />
          <YAxis type="number" domain={[0, 211]} ticks={[0, 50, 100, 150, 200]} interval={0} width={75} {...axStyle(27, 10, 5)} />
          {synPlusUnits.map((_, k) => <Line key={`sp${k}`} dataKey={`sp${k}`} stroke={G_BLUE} strokeWidth={2.6} dot={false} isAnimationActive={false} />)}
          {nonsynPlusUnits.map((_, k) => <Line key={`np${k}`} dataKey={`np${k}`} stroke={G_RED} strokeWidth={3} dot={false} isAnimationActive={false} />)}
        </LineChart>
      </div>
      <div style={right.style}>
        <LineChart width={right.width} height={right.height} margin={right.margin} data={rightData}>
          <XAxis type="number" dataKey="x" domain={[0, 50]} ticks={[0, 10, 20, 30, 40, 50]} interval={0} height={50} {...axStyle(27, 10, 9)} />
          <YAxis type="number" domain={[0, 70.1]} ticks={[0, 20, 40, 60]} interval={0} width={55} {...axStyle(27, 10, 5)} />
          {nonsynMinusUnits.map((_, k) => <Line key={`nm${k}`} dataKey={`nm${k}`} stroke={G_ORANGE} strokeWidth={2.6} dot={false} isAnimationActive={false} />)}
          {synMinusUnits.map((_, k) => <Line key={`sm${k}`} dataKey={`sm${k}`} stroke={G_GREEN} strokeWidth={2.6} dot={false} isAnimationActive={false} />)}
        </LineChart>
      </div>
    </>
  );
}

function MeanBars({ box, xDomain, yDomain, yTicks, cats, vals, errs, ns, sig, base, countDy, tdx, tdy, bar }: any) {
  const p = place(box);
  const data = cats.map((c: string, i: number) => ({ x: i + 1, v: vals[i], e: vals[i] >= 0 ? [0, errs[i]] : [errs[i], 0] }));
  const counts = cats.map((c: string, i: number) => ({ x: i + 1, y: 0, t: ns[i], neg: vals[i] < 0 }));
  return (
    <div style={p.style}>
      <ComposedChart width={p.width} height={p.height} margin={p.margin} data={data}>
        <XAxis type="number" dataKey="x" domain={xDomain} ticks={[1, 2, 3, 4]} interval={0} height={box.b}
          axisLine={base ? LINE : false} tickLine={base ? LINE : false} tickSize={base ? 8 : 0} tickMargin={base ? 2 : 0}
          tick={slantTick(cats, tdx, tdy)} />
        <YAxis type="number" domain={yDomain} ticks={yTicks} tickFormatter={(v: number) => (Math.abs(yDomain[1]) <= 1 ? v.toFixed(1) : String(v))}
          interval={0} width={box.l} {...axStyle(27, 8, 3)} />
        {!base && <ReferenceLine y={0} stroke={INK} strokeWidth={2.5} />}
        <Bar dataKey="v" fill="#fff" stroke={INK} strokeWidth={2.5} barSize={bar} isAnimationActive={false}>
          <ErrorBar dataKey="e" width={8} strokeWidth={2.5} stroke={INK} direction="y" />
        </Bar>
        <Scatter data={counts} dataKey="y" shape={countText(countDy)} isAnimationActive={false} />
        {sig.map((s: number[], k: number) => (
          <ReferenceLine key={k} segment={[{ x: s[0], y: s[1] }, { x: s[2], y: s[3] }]} stroke={INK} strokeWidth={2.5} />
        ))}
      </ComposedChart>
    </div>
  );
}

function PanelK() {
  const p = place({ x0: 1743, y0: 963, x1: 1996, y1: 1257, l: 75, t: 10, r: 20, b: 50 });
  const data = regions.map((name, i) => ({
    name, sp: kSynPlus[i], spN: kSynPlusN[i], sm: kSynMinus[i], smN: kSynMinusN[i],
    np: kNonsynPlus[i], npN: kNonsynPlusN[i], nm: kNonsynMinus[i], nmN: kNonsynMinusN[i],
  }));
  const lbl = { fill: INK, fontSize: 22 };
  return (
    <div style={p.style}>
      <BarChart width={p.width} height={p.height} margin={p.margin} data={data} barSize={14} barGap={3}>
        <XAxis dataKey="name" height={50} interval={0} {...axStyle(28, 9, 7)} />
        <YAxis type="number" domain={[0, 100]} ticks={[0, 25, 50, 75, 100]} interval={0} width={75} {...axStyle(27, 9, 4)} />
        <Bar dataKey="sp" fill={C_SYNP} isAnimationActive={false}>
          <LabelList dataKey="spN" position="top" offset={3} {...lbl} />
        </Bar>
        <Bar dataKey="sm" fill={C_SYNM} minPointSize={3} isAnimationActive={false}>
          {data.map((d, i) => <Cell key={i} fill={d.sm === 0 ? '#111' : C_SYNM} />)}
          <LabelList dataKey="smN" position="top" offset={3} {...lbl} />
        </Bar>
        <Bar dataKey="np" fill={C_NSP} isAnimationActive={false}>
          <LabelList dataKey="npN" position="top" offset={3} {...lbl} />
        </Bar>
        <Bar dataKey="nm" fill={C_NSM} isAnimationActive={false}>
          <LabelList dataKey="nmN" position="top" offset={3} {...lbl} />
        </Bar>
      </BarChart>
    </div>
  );
}

export default function App() {
  return (
    <div style={{ position: 'absolute', left: 0, top: 0, width: 2034, height: 1363, background: '#fff', fontFamily: FONT, color: INK, overflow: 'hidden' }}>
      <style>{'body{margin:0} .recharts-surface{overflow:visible}'}</style>

      {/* Row 1 */}
      <PanelA />
      <Raster x0={452} odd={synPlusRasterOdd} even={synPlusRasterEven} oddY={trialRowsOdd} evenY={trialRowsEven} labels />
      <Tuning x0={670} max={60} ticks={[0, 20, 40, 60]} fr={synPlusFR} sem={synPlusSem} spont={8} />
      <Raster x0={851} odd={synMinusRasterOdd} even={synMinusRasterEven} oddY={trialRowsOdd} evenY={trialRowsEven} labels={false} />
      <Tuning x0={1072} max={10} ticks={[0, 5, 10]} fr={synMinusFR} sem={synMinusSem} spont={0} />
      <Raster x0={1245} odd={nonsynPlusRasterOdd} even={nonsynPlusRasterEven} oddY={nonsynPlusRowsOdd} evenY={nonsynPlusRowsEven} labels={false} />
      <Tuning x0={1466} max={40} ticks={[0, 20, 40]} fr={nonsynPlusFR} sem={nonsynPlusSem} spont={10} />
      <Raster x0={1647} odd={nonsynMinusRasterOdd} even={nonsynMinusRasterEven} oddY={nonsynMinusRowsOdd} evenY={nonsynMinusRowsEven} labels={false} />
      <Tuning x0={1871} max={15} ticks={[0, 5, 10, 15]} fr={nonsynMinusFR} sem={nonsynMinusSem} spont={15} />

      <Letter x={31} y={22} c="A" />
      <Letter x={381} y={22} c="B" />
      <Txt x={41} y={196} rot={-90} size={27}>Repetition rate (pps)</Txt>
      <Txt x={256} y={373} size={27}>Time (ms)</Txt>
      <Txt x={397} y={195} rot={-90} size={27}>Repetion rate (pps)</Txt>
      <Txt x={562} y={55} size={26} color={MAGENTA}>syn+</Txt>
      <Txt x={559} y={373} size={27}>Time (ms)</Txt>
      <Txt x={747} y={373} size={27}>FR (spk/s)</Txt>
      <Txt x={971} y={57} size={26} color={MAGENTA}>syn-</Txt>
      <Txt x={979} y={373} size={27}>Time (ms)</Txt>
      <Txt x={1148} y={373} size={27}>FR (spk/s)</Txt>
      <Txt x={1356} y={57} size={26} color={MAGENTA}>nonsyn+</Txt>
      <Txt x={1365} y={373} size={27}>Time (ms)</Txt>
      <Txt x={1548} y={373} size={27}>FR (spk/s)</Txt>
      <Txt x={1756} y={57} size={26} color={MAGENTA}>nonsyn-</Txt>
      <Txt x={1764} y={373} size={27}>Time (ms)</Txt>
      <Txt x={1937} y={373} size={27}>FR (spk/s)</Txt>

      {/* Row 2 */}
      <PanelC />
      <PanelD />
      <PanelE />
      <PanelF />

      <Letter x={31} y={458} c="C" />
      <Txt x={33} y={643} rot={-90} size={27}>Rayleigh statistics</Txt>
      <Txt x={289} y={858} size={27}>Repetion rate (pps)</Txt>
      <Swatch x={207} y={493} w={23} h={3} color={C_SYN} />
      <Txt x={246} y={493} size={23} anchor="start">syn (<N /> = 96)</Txt>
      <Swatch x={207} y={518} w={23} h={3} color={C_NONSYN} />
      <Txt x={246} y={518} size={23} anchor="start">nonsyn (<N /> = 68)</Txt>
      <Txt x={308} y={688} size={24}>Flutter perception</Txt>

      <Letter x={489} y={458} c="D" />
      <Txt x={528} y={653} rot={-90} size={27}>Number of units</Txt>
      <Txt x={820} y={857} size={27}>Spearman correlation coefficient</Txt>
      <Swatch x={616} y={488} w={23} h={12} color={C_GRAY} />
      <Txt x={649} y={488} size={23.5} anchor="start">non-monotonic (<N /> = 49)</Txt>
      <Swatch x={616} y={516} w={23} h={12} color={C_SYNP} />
      <Txt x={649} y={516} size={23.5} anchor="start">syn+ (<N /> = 68)</Txt>
      <Swatch x={616} y={545} w={23} h={12} color={C_SYNM} />
      <Txt x={649} y={545} size={23.5} anchor="start">syn- (<N /> = 6)</Txt>
      <Swatch x={616} y={573} w={23} h={12} color={C_NSP} />
      <Txt x={649} y={573} size={23.5} anchor="start">nonsyn+ (<N /> = 29)</Txt>
      <Swatch x={616} y={601} w={23} h={12} color={C_NSM} />
      <Txt x={649} y={601} size={23.5} anchor="start">nonsyn- (<N /> = 12)</Txt>

      <Letter x={1084} y={458} c="E" />
      <Txt x={PIE_CX + 63} y={PIE_CY - 32} size={23}>41%</Txt>
      <Txt x={PIE_CX + 63} y={PIE_CY - 4} size={23}><N /> = 68</Txt>
      <Txt x={PIE_CX + 4} y={PIE_CY + 71} size={23}>18%</Txt>
      <Txt x={PIE_CX + 4} y={PIE_CY + 99} size={23}><N /> = 29</Txt>
      <Txt x={PIE_CX - 57} y={PIE_CY - 51} size={23}>30%</Txt>
      <Txt x={PIE_CX - 57} y={PIE_CY - 22} size={23}><N /> = 49</Txt>
      <Txt x={PIE_CX - 150} y={PIE_CY + 42} size={23}>4%</Txt>
      <Txt x={PIE_CX - 150} y={PIE_CY + 69} size={23}><N /> = 6</Txt>
      <Txt x={PIE_CX - 103} y={PIE_CY + 110} size={23}>7%</Txt>
      <Txt x={PIE_CX - 103} y={PIE_CY + 138} size={23}><N /> = 12</Txt>
      <Txt x={PIE_CX + 13} y={PIE_CY + 163} size={28}><N /> = 164</Txt>
      <Swatch x={1367} y={712} w={25} h={11} color={C_SYNP} />
      <Txt x={1401} y={712} size={24} anchor="start">syn+</Txt>
      <Swatch x={1367} y={740} w={25} h={11} color={C_NSP} />
      <Txt x={1401} y={740} size={24} anchor="start">nonsyn+</Txt>
      <Swatch x={1367} y={770} w={25} h={11} color={C_SYNM} />
      <Txt x={1401} y={770} size={24} anchor="start">syn-</Txt>
      <Swatch x={1367} y={798} w={25} h={11} color={C_NSM} />
      <Txt x={1401} y={798} size={24} anchor="start">nonsyn-</Txt>
      <Swatch x={1367} y={828} w={25} h={11} color="#fff" border />
      <Txt x={1401} y={828} size={24} anchor="start">non-monotonic</Txt>

      <Letter x={1508} y={458} c="F" />
      <Txt x={1577} y={641} rot={-90} size={27}>Normalized FR</Txt>
      <Txt x={1812} y={857} size={27}>Repetion rate (pps)</Txt>
      <Txt x={1845} y={752} size={24}>Flutter perception</Txt>
      <Swatch x={1695} y={482} w={20} h={3} color={C_POS} />
      <Txt x={1724} y={482} size={23} anchor="start">positive monotonic (<N /> = 97)</Txt>
      <Swatch x={1695} y={506} w={20} h={3} color={C_NEG} />
      <Txt x={1724} y={506} size={23} anchor="start">negative monotonic (<N /> = 18)</Txt>

      {/* Row 3 */}
      <PanelG />
      <MeanBars box={{ x0: 684, y0: 948, x1: 924, y1: 1258, l: 75, t: 10, r: 10, b: 100 }} xDomain={[0.305, 4.693]} yDomain={[-0.5, 1]}
        yTicks={[-0.5, 0, 0.5, 1]} cats={hCats} vals={hSlope} errs={hErr} ns={hN} sig={hSig} base={false} countDy={4} tdx={24} tdy={22} bar={32} />
      <MeanBars box={{ x0: 1030, y0: 948, x1: 1251, y1: 1258, l: 70, t: 10, r: 10, b: 100 }} xDomain={[0.352, 4.445]} yDomain={[0, 60]}
        yTicks={[0, 20, 40, 60]} cats={iCats} vals={iFR} errs={iErr} ns={iN} sig={iSig} base countDy={12} tdx={17} tdy={13} bar={31} />
      <MeanBars box={{ x0: 1374, y0: 945, x1: 1605, y1: 1257, l: 70, t: 10, r: 10, b: 100 }} xDomain={[0.254, 4.67]} yDomain={[0, 1]}
        yTicks={[0, 0.2, 0.4, 0.6, 0.8, 1.0]} cats={jCats} vals={jVS} errs={jErr} ns={jN} sig={jSig} base countDy={4} tdx={16} tdy={13} bar={32} />
      <PanelK />

      <Letter x={33} y={920} c="G" />
      <Txt x={18} y={1100} rot={-90} size={27}>FR (spk/s)</Txt>
      <Txt x={345} y={1332} size={28}>Repetion rate (pps)</Txt>
      <Swatch x={114} y={933} w={19} h={3} color={G_RED} />
      <Txt x={139} y={933} size={24} anchor="start">nonsyn+ (<N /> = 29)</Txt>
      <Swatch x={114} y={961} w={19} h={3} color={G_BLUE} />
      <Txt x={139} y={961} size={24} anchor="start">syn+ (<N /> = 68)</Txt>
      <Swatch x={390} y={933} w={20} h={3} color={G_ORANGE} />
      <Txt x={418} y={933} size={24} anchor="start">nonsyn- (<N /> = 12)</Txt>
      <Swatch x={390} y={961} w={20} h={3} color={G_GREEN} />
      <Txt x={418} y={961} size={24} anchor="start">syn- (<N /> = 6)</Txt>

      <Letter x={618} y={920} c="H" />
      <Txt x={622} y={1112} rot={-90} size={28}>Average slope</Txt>
      <Txt x={750} y={944} size={28}>**</Txt>
      <Letter x={950} y={920} c="I" />
      <Txt x={962} y={1110} rot={-90} size={28}>Mean FR (spk/s)</Txt>
      <Txt x={1092} y={947} size={28}>**</Txt>
      <Letter x={1276} y={920} c="J" />
      <Txt x={1301} y={1108} rot={-90} size={28}>Mean vector strength</Txt>
      <Txt x={1439} y={949} size={28}>*</Txt>
      <Letter x={1630} y={922} c="K" />
      <Txt x={1673} y={1110} rot={-90} size={28}>proportion of type (%)</Txt>
      <Swatch x={1895} y={949} w={26} h={13} color={C_SYNP} />
      <Txt x={1928} y={949} size={24} anchor="start">syn+</Txt>
      <Swatch x={1895} y={978} w={26} h={13} color={C_SYNM} />
      <Txt x={1928} y={978} size={24} anchor="start">syn-</Txt>
      <Swatch x={1895} y={1007} w={26} h={13} color={C_NSP} />
      <Txt x={1928} y={1007} size={24} anchor="start">nonsyn+</Txt>
      <Swatch x={1895} y={1036} w={26} h={13} color={C_NSM} />
      <Txt x={1928} y={1036} size={24} anchor="start">nonsyn-</Txt>

      <svg width={2034} height={1363} style={{ position: 'absolute', left: 0, top: 0, pointerEvents: 'none' }}>
        <line x1={PIE_CX - 125} y1={PIE_CY + 53} x2={PIE_CX - 103} y2={PIE_CY + 48} stroke={INK} strokeWidth={1.5} />
        <line x1={PIE_CX - 87} y1={PIE_CY + 105} x2={PIE_CX - 79} y2={PIE_CY + 80} stroke={INK} strokeWidth={1.5} />
      </svg>
    </div>
  );
}
